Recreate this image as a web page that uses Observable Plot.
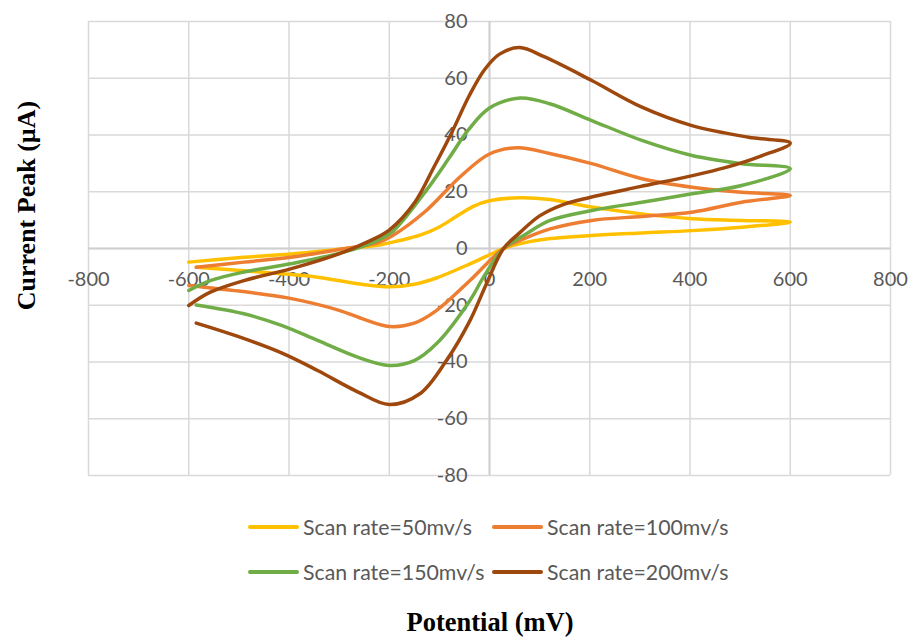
<!DOCTYPE html>
<html>
<head>
<meta charset="utf-8">
<script src="https://cdn.jsdelivr.net/npm/d3@7"></script>
<script src="https://cdn.jsdelivr.net/npm/@observablehq/plot@0.6"></script>
<style>
  body { margin: 0; background: #fff; }
  #wrap { position: relative; width: 912px; height: 637px; font-family: Lato, "Liberation Sans", sans-serif; }
  .leg { position: absolute; display: flex; align-items: center; font-size: 21.3px; color: #595959; line-height: 26px; white-space: nowrap; }
  .leg .sw { display: inline-block; width: 51px; height: 3.5px; margin-right: 4px; border-radius: 2px; }
  #xtitle { position: absolute; left: 290px; width: 400px; top: 606px; text-align: center; font-family: "Liberation Serif", serif; font-weight: bold; font-size: 26.5px; color: #000; line-height: 32px; }
</style>
</head>
<body>
<div id="wrap">
  <div id="chart"></div>
  <div id="xtitle">Potential (mV)</div>
</div>
<script>
// Series names and colours
const seriesNames = ["Scan rate=50mv/s", "Scan rate=100mv/s", "Scan rate=150mv/s", "Scan rate=200mv/s"];
const seriesColors = ["#FFC000", "#ED7D31", "#70AD47", "#9E480E"];

// Tick values
const xTicks = [-800, -600, -400, -200, 0, 200, 400, 600, 800];
const yTicks = [-80, -60, -40, -20, 0, 20, 40, 60, 80];

// Scan rate 50 mV/s (forward then reverse)
const potential50 = [-600, -490, -397, -291, -224, -180, -140, -100, -60, -30, 0, 60, 120, 204, 304, 404, 503, 600,
  503, 404, 304, 204, 117, 64, 28, 0, -39, -106, -150, -200, -263, -343, -415, -490, -585];
const current50 = [-4.8, -3.1, -1.9, -0.1, 1.1, 2.8, 4.6, 7.6, 12.0, 15.0, 16.8, 17.9, 17.3, 14.6, 12.2, 10.5, 9.9, 9.3,
  7.5, 6.3, 5.5, 4.6, 3.4, 1.8, 0, -2.2, -5.4, -10.4, -12.6, -13.5, -12.4, -10.1, -8.9, -7.8, -6.6];

// Scan rate 100 mV/s
const potential100 = [-585, -490, -397, -291, -224, -193, -126, -59, 0, 57, 120, 204, 304, 404, 503, 600,
  503, 404, 304, 204, 121, 68, 28, -39, -106, -150, -200, -250, -300, -400, -500, -600];
const current100 = [-6.6, -4.8, -3.1, -0.1, 2.0, 4.6, 13.4, 25.2, 33.3, 35.5, 33.5, 29.9, 24.6, 21.6, 19.8, 18.7,
  16.3, 12.8, 11.3, 9.9, 6.9, 3.4, 0, -11.3, -21.9, -26.3, -27.5, -25.0, -21.8, -17.5, -15.0, -13.0];

// Scan rate 150 mV/s
const potential150 = [-600, -557, -490, -397, -291, -224, -193, -126, -79, -43, 0, 61, 120, 204, 304, 404, 503, 600,
  503, 404, 304, 204, 121, 68, 28, -12, -39, -106, -150, -200, -263, -343, -415, -490, -585];
const current150 = [-14.8, -11.3, -8.3, -5.4, -1.3, 2.8, 6.0, 20.5, 32.3, 41.6, 49.5, 53.0, 51.0, 45.1, 38.1, 32.8, 29.9, 28.1,
  22.2, 19.3, 16.3, 13.4, 9.9, 4.6, 0, -10.1, -18.3, -33.6, -39.5, -41.2, -38.3, -32.4, -27.1, -23.0, -19.9];

// Scan rate 200 mV/s
const potential200 = [-600, -557, -490, -397, -291, -250, -200, -150, -110, -75, -40, -10, 20, 60, 110, 204, 304, 404, 517, 600,
  540, 470, 400, 300, 200, 147, 100, 60, 28, -6, -39, -86, -139, -200, -263, -343, -415, -502, -585];
const current200 = [-20.1, -15.4, -11.3, -7.2, -1.3, 1.8, 6.5, 16.0, 29.0, 41.0, 54.0, 63.0, 68.5, 70.8, 67.5, 59.2, 49.8, 43.3, 39.2, 37.1,
  32.5, 28.5, 25.5, 21.8, 18.0, 15.5, 11.5, 5.5, 0, -12.4, -25.4, -39.5, -51.2, -55.0, -50.5, -43.0, -36.8, -31.0, -26.3];

const potentials = [potential50, potential100, potential150, potential200];
const currents = [current50, current100, current150, current200];

const rows = [];
seriesNames.forEach((name, i) => {
  potentials[i].forEach((p, j) => rows.push({series: name, potential: p, current: currents[i][j]}));
});

const tickFont = {fontFamily: "Lato, 'Liberation Sans', sans-serif", fontSize: 20, fill: "#595959"};

const chart = Plot.plot({
  width: 912,
  height: 500,
  marginLeft: 88,
  marginRight: 22,
  marginTop: 21,
  marginBottom: 25,
  style: {background: "#fff", overflow: "visible"},
  x: {domain: [-800, 800], axis: null},
  y: {domain: [-80, 80], axis: null},
  color: {domain: seriesNames, range: seriesColors},
  marks: [
    Plot.gridX(xTicks, {stroke: "#d9d9d9", strokeOpacity: 1, strokeWidth: 1.5}),
    Plot.gridY(yTicks, {stroke: "#d9d9d9", strokeOpacity: 1, strokeWidth: 1.5}),
    Plot.ruleX([0], {stroke: "#cfcfcf", strokeWidth: 2}),
    Plot.ruleY([0], {stroke: "#cfcfcf", strokeWidth: 2}),
    Plot.text(xTicks, {x: d => d, y: 0, dy: 31, text: d => String(d), textAnchor: "middle", ...tickFont}),
    Plot.text(yTicks, {x: 0, y: d => d, dx: -22, text: d => String(d), textAnchor: "end", ...tickFont}),
    Plot.text(["Current Peak (µA)"], {frameAnchor: "left", dx: -62, dy: -43, rotate: -90, text: d => d,
      textAnchor: "middle", lineAnchor: "middle",
      fontFamily: "'Liberation Serif', serif", fontWeight: "bold", fontSize: 26, fill: "#000"}),
    Plot.line(rows, {x: "potential", y: "current", z: "series", stroke: "series", strokeWidth: 3.5,
      curve: "catmull-rom", strokeLinejoin: "round", strokeLinecap: "round"})
  ]
});
document.getElementById("chart").appendChild(chart);

// Legend
const legPos = [[248, 514], [492, 514], [248, 559], [492, 559]];
const wrap = document.getElementById("wrap");
seriesNames.forEach((name, i) => {
  const d = document.createElement("div");
  d.className = "leg";
  d.style.left = legPos[i][0] + "px";
  d.style.top = legPos[i][1] + "px";
  const sw = document.createElement("span");
  sw.className = "sw";
  sw.style.background = seriesColors[i];
  const t = document.createElement("span");
  t.textContent = name;
  d.appendChild(sw);
  d.appendChild(t);
  wrap.appendChild(d);
});
</script>
</body>
</html>
